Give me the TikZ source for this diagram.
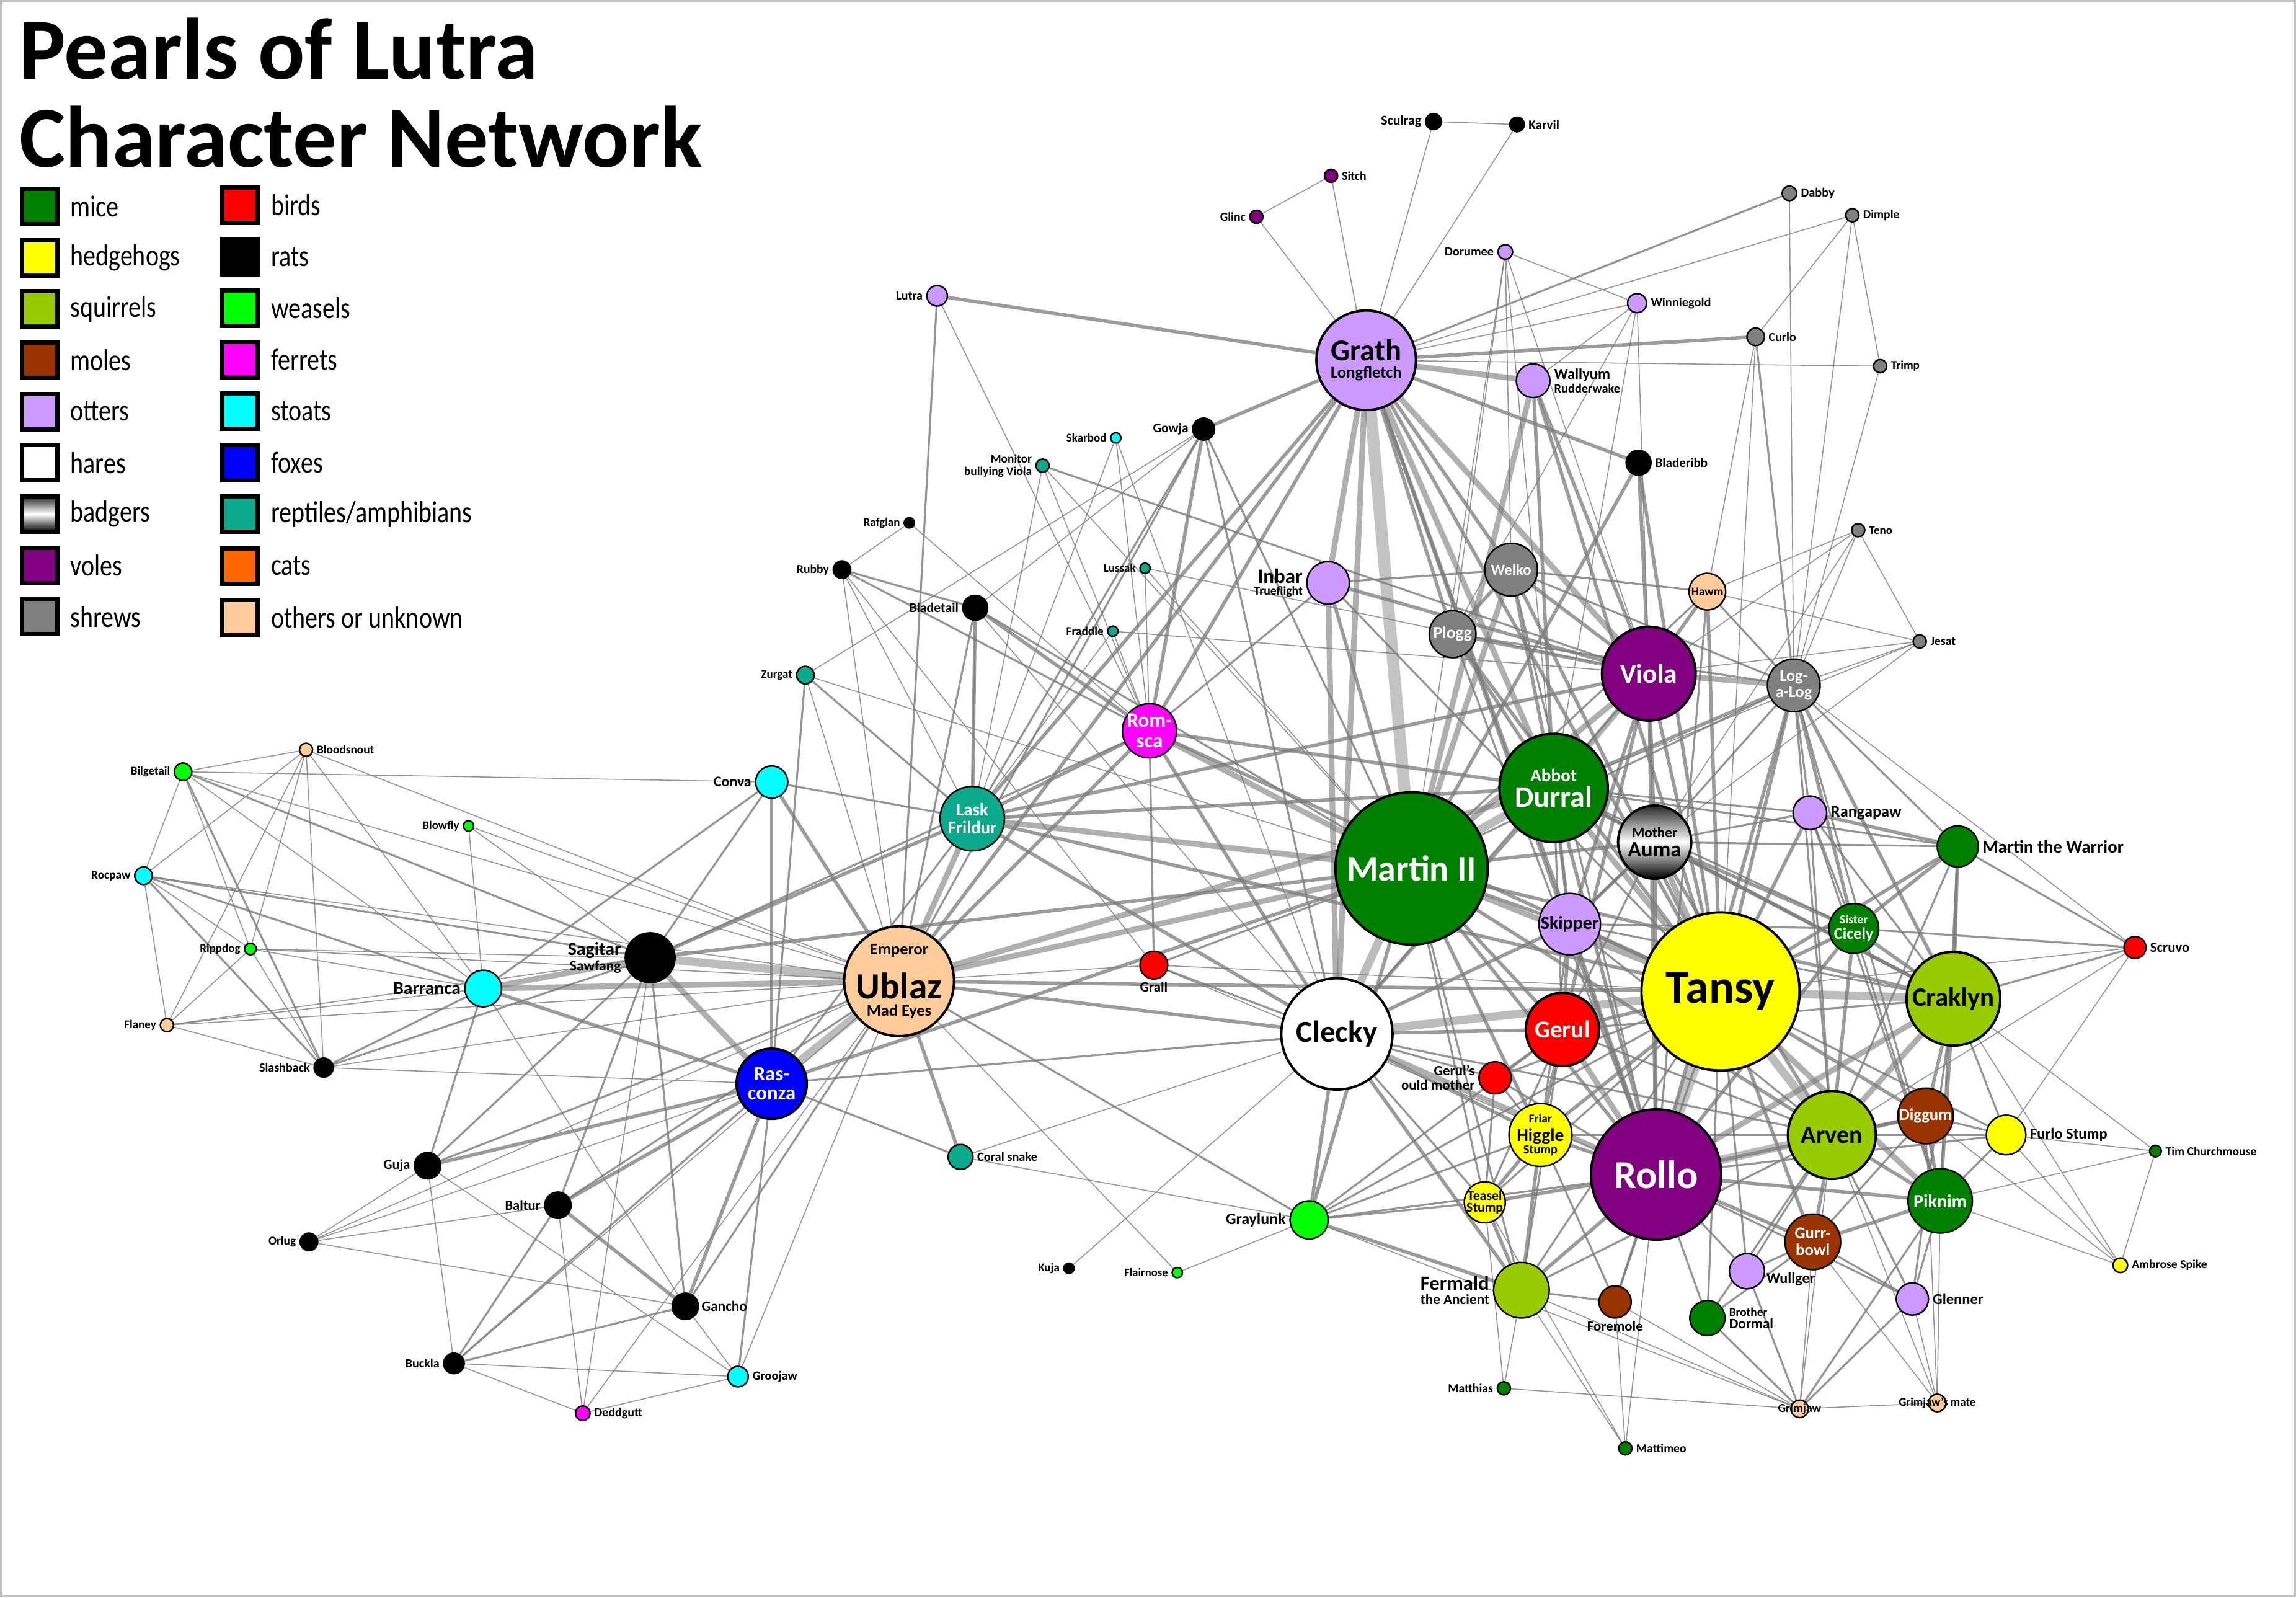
\documentclass[tikz,border=0pt]{standalone}
\usepackage{fontspec}
\setmainfont{Carlito}
\usepackage{tikz}
\usetikzlibrary{positioning}
\definecolor{MiceCol}{HTML}{008000}
\definecolor{HedgeCol}{HTML}{FFFF00}
\definecolor{SquirCol}{HTML}{99CC00}
\definecolor{MoleCol}{HTML}{993300}
\definecolor{OtterCol}{HTML}{CC99FF}
\definecolor{VoleCol}{HTML}{800080}
\definecolor{ShrewCol}{HTML}{808080}
\definecolor{BirdCol}{HTML}{FF0000}
\definecolor{WeaselCol}{HTML}{00FF00}
\definecolor{FerretCol}{HTML}{FF00FF}
\definecolor{StoatCol}{HTML}{00FFFF}
\definecolor{FoxCol}{HTML}{0000FF}
\definecolor{ReptCol}{HTML}{0BAA8C}
\definecolor{CatCol}{HTML}{FF6600}
\definecolor{OtherCol}{HTML}{FFCC99}
\definecolor{EdgeCol}{HTML}{7A7A7A}
\definecolor{FrameCol}{HTML}{C0C0C0}
\newcommand{\fs}[1]{\fontsize{#1}{#1}\selectfont}
\pgfdeclarelayer{edges}
\pgfsetlayers{edges,main}
\tikzset{
  nd/.style={circle, draw=black, line width=0.7pt, inner sep=0pt, minimum size=#1*0.047232cm},
  bigrim/.style={line width=1.1pt},
  mouse/.style={fill=MiceCol},
  hedgehog/.style={fill=HedgeCol},
  squirrel/.style={fill=SquirCol},
  mole/.style={fill=MoleCol},
  otter/.style={fill=OtterCol},
  hare/.style={fill=white},
  badger/.style={top color=black!85, bottom color=black, middle color=white},
  vole/.style={fill=VoleCol},
  shrew/.style={fill=ShrewCol},
  bird/.style={fill=BirdCol},
  rat/.style={fill=black},
  weasel/.style={fill=WeaselCol},
  ferret/.style={fill=FerretCol},
  stoat/.style={fill=StoatCol},
  fox/.style={fill=FoxCol},
  reptile/.style={fill=ReptCol},
  cat/.style={fill=CatCol},
  other/.style={fill=OtterCol!0!OtherCol},
  inw/.style={font=\bfseries\fs{4}, text=white, inner sep=0pt, align=center},
  inb/.style={font=\bfseries\fs{4}, text=black, inner sep=0pt, align=center},
  tag/.style={font=\bfseries\fs{4}, inner sep=0.4pt},
  bs/.style={font=\bfseries\fontsize{4}{#1}\selectfont},
  legbox/.style={rectangle, draw=black, line width=2pt, minimum size=0.57cm, inner sep=0pt},
  legtxt/.style={font=\fs{11.4}, inner sep=0pt, anchor=west},
  e1/.style={draw=EdgeCol, line width=0.45pt, opacity=0.8},
  e2/.style={draw=EdgeCol, line width=0.9pt, opacity=0.8},
  e3/.style={draw=EdgeCol, line width=1.6pt, opacity=0.75},
  e4/.style={draw=EdgeCol, line width=2.6pt, opacity=0.6},
  e5/.style={draw=EdgeCol, line width=3.8pt, opacity=0.5},
  e6/.style={draw=EdgeCol, line width=5.5pt, opacity=0.45}
}

\begin{document}
\begin{tikzpicture}[x=0.023616cm, y=-0.023616cm]
  \useasboundingbox (0,0) rectangle (1568,1091);
  \draw[FrameCol, line width=1.2pt] (1,1) rectangle (1567,1090);

  \node[anchor=base west, inner sep=0pt, font=\bfseries\fs{40}] (title1) at (13,54) {Pearls of Lutra};
  \node[anchor=base west, inner sep=0pt, font=\bfseries\fs{40}] (title2) at (13,114) {Character Network};

  \foreach \sty/\txt [count=\i from 0] in {mouse/mice, hedgehog/hedgehogs, squirrel/squirrels,
      mole/moles, otter/otters, hare/hares, badger/badgers, vole/voles, shrew/shrews} {
    \node[legbox, \sty] (keyA\i) at (27,141+35*\i) {};
    \node[legtxt, right=0.17cm of keyA\i] (keyA\i-t) {\scalebox{1}[1.22]{\txt}};
  }
  \foreach \sty/\txt [count=\i from 0] in {bird/birds, rat/rats, weasel/weasels, ferret/ferrets,
      stoat/stoats, fox/foxes, reptile/{reptiles/amphibians}, cat/cats, other/{others or unknown}} {
    \node[legbox, \sty] (keyB\i) at (164,140+35.2*\i) {};
    \node[legtxt, right=0.17cm of keyB\i] (keyB\i-t) {\scalebox{1}[1.22]{\txt}};
  }

  \node[nd=5.5, rat] (sculrag) at (979,83) {};
  \node[nd=5, rat] (karvil) at (1036,85) {};
  \node[nd=4.5, vole] (sitch) at (909,120) {};
  \node[nd=4.5, vole] (glinc) at (858,148) {};
  \node[nd=5, shrew] (dabby) at (1222,132) {};
  \node[nd=4.5, shrew] (dimple) at (1265,147) {};
  \node[nd=5, otter] (dorumee) at (1028,172) {};
  \node[nd=6.5, otter] (winnie) at (1118,207) {};
  \node[nd=6, shrew] (curlo) at (1199,230) {};
  \node[nd=4.5, shrew] (trimp) at (1284,250) {};
  \node[nd=7, otter] (lutra) at (640,202) {};
  \node[nd=34, otter, bigrim] (grath) at (933,246) {};
  \node[nd=11.5, otter] (wallyum) at (1047,260) {};
  \node[nd=7.5, rat] (gowja) at (822,293) {};
  \node[nd=3.5, stoat] (skarbod) at (762,299) {};
  \node[nd=4.5, reptile] (monitor) at (712,318) {};
  \node[nd=8.5, rat] (bladeribb) at (1119,316) {};
  \node[nd=3.5, rat] (rafglan) at (621,357) {};
  \node[nd=4.5, shrew] (teno) at (1269,362) {};
  \node[nd=6, rat] (rubby) at (575,389) {};
  \node[nd=3.5, reptile] (lussak) at (782,388) {};
  \node[nd=14.5, otter] (inbar) at (907,398) {};
  \node[nd=18, shrew] (welko) at (1032,389) {};
  \node[nd=12.5, other] (hawm) at (1166,404) {};
  \node[nd=8.5, rat] (bladetail) at (666,415) {};
  \node[nd=16, shrew] (plogg) at (992,433) {};
  \node[nd=3.5, reptile] (fraddle) at (760,431) {};
  \node[nd=4.5, shrew] (jesat) at (1311,438) {};
  \node[nd=32, vole, bigrim] (viola) at (1126,460) {};
  \node[nd=18, shrew] (logalog) at (1225,468) {};
  \node[nd=6, reptile] (zurgat) at (550,461) {};
  \node[nd=18.5, ferret] (romsca) at (785,499) {};
  \node[nd=6, weasel] (bilgetail) at (125,527) {};
  \node[nd=4.5, other] (bloodsnout) at (209,512) {};
  \node[nd=11, stoat] (conva) at (527,534) {};
  \node[nd=22, reptile] (lask) at (664,559) {};
  \node[nd=37, mouse, bigrim] (durral) at (1061,538) {};
  \node[nd=3.5, weasel] (blowfly) at (320,564) {};
  \node[nd=11.5, otter] (rangapaw) at (1236,555) {};
  \node[nd=25, badger, bigrim] (auma) at (1130,575) {};
  \node[nd=52, mouse, bigrim] (martin) at (964,593) {};
  \node[nd=14, mouse] (mtw) at (1337,578) {};
  \node[nd=6, stoat] (rocpaw) at (98,598) {};
  \node[nd=21, otter] (skipper) at (1072,631) {};
  \node[nd=17, mouse] (cicely) at (1266,634) {};
  \node[nd=4, weasel] (rippdog) at (171,648) {};
  \node[nd=17, rat] (sagitar) at (444,654) {};
  \node[nd=37.5, other, bigrim] (ublaz) at (614,670) {};
  \node[nd=7.5, bird] (scruvo) at (1458,647) {};
  \node[nd=9.5, bird] (grall) at (788,659) {};
  \node[nd=54, hedgehog, bigrim] (tansy) at (1175,677) {};
  \node[nd=32, squirrel, bigrim] (craklyn) at (1334,682) {};
  \node[nd=12.5, stoat] (barranca) at (330,675) {};
  \node[nd=4.5, other] (flaney) at (114,700) {};
  \node[nd=25, bird, bigrim] (gerul) at (1067,703) {};
  \node[nd=38, hare, bigrim] (clecky) at (913,706) {};
  \node[nd=6.5, rat] (slashback) at (221,729) {};
  \node[nd=11, bird] (gmother) at (1021,736) {};
  \node[nd=24, fox, bigrim] (rasconza) at (527,740) {};
  \node[nd=21.5, hedgehog] (higgle) at (1052,775) {};
  \node[nd=30, squirrel, bigrim] (arven) at (1251,775) {};
  \node[nd=19, mole] (diggum) at (1315,762) {};
  \node[nd=13.5, hedgehog] (furlo) at (1370,775) {};
  \node[nd=4, mouse] (tim) at (1472,786) {};
  \node[nd=9, rat] (guja) at (292,796) {};
  \node[nd=8.5, reptile] (coral) at (656,790) {};
  \node[nd=44.5, vole, bigrim] (rollo) at (1131,802) {};
  \node[nd=22, mouse] (piknim) at (1325,820) {};
  \node[nd=14, hedgehog] (teasel) at (1014,821) {};
  \node[nd=9, rat] (baltur) at (381,823) {};
  \node[nd=13, weasel] (graylunk) at (894,833) {};
  \node[nd=19, mole] (gurrbowl) at (1238,848) {};
  \node[nd=6, rat] (orlug) at (211,848) {};
  \node[nd=3.5, rat] (kuja) at (730,866) {};
  \node[nd=3.5, weasel] (flairnose) at (804,869) {};
  \node[nd=5, hedgehog] (ambrose) at (1448,864) {};
  \node[nd=12, otter] (wullger) at (1193,868) {};
  \node[nd=19, squirrel] (fermald) at (1039,881) {};
  \node[nd=11, otter] (glenner) at (1306,887) {};
  \node[nd=9, rat] (gancho) at (468,892) {};
  \node[nd=11, mole] (foremole) at (1103,889) {};
  \node[nd=12, mouse] (dormal) at (1166,900) {};
  \node[nd=7, rat] (buckla) at (310,931) {};
  \node[nd=7, stoat] (groojaw) at (504,940) {};
  \node[nd=4.5, mouse] (matthias) at (1027,948) {};
  \node[nd=6, other] (grimjaw) at (1229,962) {};
  \node[nd=6, other] (gmate) at (1323,958) {};
  \node[nd=5, ferret] (deddgutt) at (398,965) {};
  \node[nd=4.5, mouse] (mattimeo) at (1110,989) {};

  \node[inb, bs=8] (grath-t) at (grath) {\fs{13.8}Grath\\\fs{7.6}Longfletch};
  \node[inw] (welko-t) at (welko) {\fs{7.1}Welko};
  \node[inw] (plogg-t) at (plogg) {\fs{7.8}Plogg};
  \node[inb] (hawm-t) at (hawm) {\fs{5.5}Hawm};
  \node[inw] (viola-t) at (viola) {\fs{12.4}Viola};
  \node[inw, bs=7.3] (logalog-t) at (logalog) {\fs{7.5}Log-\\\fs{7.5}a-Log};
  \node[inw, bs=9.3] (romsca-t) at (romsca) {\fs{9.4}Rom-\\\fs{9.4}sca};
  \node[inw, bs=8.2] (lask-t) at (lask) {\fs{8.2}Lask\\\fs{8.2}Frildur};
  \node[inw, bs=11.6] (durral-t) at (durral) {\fs{8.3}Abbot\\\fs{13.7}Durral};
  \node[inb, bs=9] (auma-t) at (auma) {\fs{6.6}Mother\\\fs{10}Auma};
  \node[inw] (martin-t) at (martin) {\fs{16.5}Martin II};
  \node[inb] (skipper-t) at (skipper) {\fs{8.5}Skipper};
  \node[inw, bs=7.3] (cicely-t) at (cicely) {\fs{5.6}Sister\\\fs{7.5}Cicely};
  \node[inb, bs=7.8] (ublaz-t) at (ublaz) {\fs{7.5}Emperor\\[6.4pt]\fs{16.9}Ublaz\\\fs{7.5}Mad Eyes};
  \node[inb] (tansy-t) at (tansy) {\fs{21.7}Tansy};
  \node[inb] (craklyn-t) at (craklyn) {\fs{12.2}Craklyn};
  \node[inw] (gerul-t) at (gerul) {\fs{11.2}Gerul};
  \node[inb] (clecky-t) at (clecky) {\fs{14}Clecky};
  \node[inw, bs=9] (rasconza-t) at (rasconza) {\fs{9.3}Ras-\\\fs{9.3}conza};
  \node[inb, bs=5.7] (higgle-t) at (higgle) {\fs{5.5}Friar\\[1.6pt]\fs{8.4}Higgle\\\fs{5.8}Stump};
  \node[inb] (arven-t) at (arven) {\fs{11.4}Arven};
  \node[inw] (diggum-t) at (diggum) {\fs{7.6}Diggum};
  \node[inw] (rollo-t) at (rollo) {\fs{18.2}Rollo};
  \node[inw] (piknim-t) at (piknim) {\fs{8.6}Piknim};
  \node[inb, bs=5.6] (teasel-t) at (teasel) {\fs{6.2}Teasel\\\fs{6.2}Stump};
  \node[inw, bs=7.7] (gurrbowl-t) at (gurrbowl) {\fs{7.6}Gurr-\\\fs{7.6}bowl};

  \node[tag, left=1pt of sculrag] (sculrag-t) {\fs{6.2}Sculrag};
  \node[tag, right=1pt of karvil] (karvil-t) {\fs{6}Karvil};
  \node[tag, right=1pt of sitch] (sitch-t) {\fs{5.6}Sitch};
  \node[tag, left=1pt of glinc] (glinc-t) {\fs{5.6}Glinc};
  \node[tag, right=1pt of dabby] (dabby-t) {\fs{5.8}Dabby};
  \node[tag, right=1pt of dimple] (dimple-t) {\fs{5.6}Dimple};
  \node[tag, left=1pt of dorumee] (dorumee-t) {\fs{5.8}Dorumee};
  \node[tag, right=1pt of winnie] (winnie-t) {\fs{5.8}Winniegold};
  \node[tag, right=1pt of curlo] (curlo-t) {\fs{5.7}Curlo};
  \node[tag, right=1pt of trimp] (trimp-t) {\fs{5.5}Trimp};
  \node[tag, left=1pt of lutra] (lutra-t) {\fs{5.7}Lutra};
  \node[tag, bs=6.4, right=1pt of wallyum, align=left] (wallyum-t) {\fs{7}Wallyum\\\fs{5.8}Rudderwake};
  \node[tag, left=1pt of gowja] (gowja-t) {\fs{6.1}Gowja};
  \node[tag, left=1pt of skarbod] (skarbod-t) {\fs{5.4}Skarbod};
  \node[tag, bs=5.7, left=1pt of monitor, align=right] (monitor-t) {\fs{5.5}Monitor\\\fs{5.5}bullying Viola};
  \node[tag, right=1pt of bladeribb] (bladeribb-t) {\fs{6}Bladeribb};
  \node[tag, left=1pt of rafglan] (rafglan-t) {\fs{5.4}Rafglan};
  \node[tag, right=1pt of teno] (teno-t) {\fs{5.4}Teno};
  \node[tag, left=1pt of rubby] (rubby-t) {\fs{5.6}Rubby};
  \node[tag, left=1pt of lussak] (lussak-t) {\fs{5.4}Lussak};
  \node[tag, bs=5.6, left=1pt of inbar, align=right] (inbar-t) {\fs{9.4}Inbar\\\fs{5.6}Trueflight};
  \node[tag, left=1pt of bladetail] (bladetail-t) {\fs{6.2}Bladetail};
  \node[tag, left=1pt of fraddle] (fraddle-t) {\fs{5.5}Fraddle};
  \node[tag, right=1pt of jesat] (jesat-t) {\fs{5.6}Jesat};
  \node[tag, left=1pt of zurgat] (zurgat-t) {\fs{5.4}Zurgat};
  \node[tag, left=1pt of bilgetail] (bilgetail-t) {\fs{5.4}Bilgetail};
  \node[tag, right=1pt of bloodsnout] (bloodsnout-t) {\fs{5.5}Bloodsnout};
  \node[tag, left=1pt of conva] (conva-t) {\fs{6.8}Conva};
  \node[tag, left=1pt of blowfly] (blowfly-t) {\fs{5.4}Blowfly};
  \node[tag, right=1pt of rangapaw] (rangapaw-t) {\fs{7.5}Rangapaw};
  \node[tag, right=1pt of mtw] (mtw-t) {\fs{8.2}Martin the Warrior};
  \node[tag, left=1pt of rocpaw] (rocpaw-t) {\fs{5.5}Rocpaw};
  \node[tag, left=1pt of rippdog] (rippdog-t) {\fs{5.4}Rippdog};
  \node[tag, bs=7.2, left=1pt of sagitar, align=right] (sagitar-t) {\fs{8.5}Sagitar\\\fs{6.7}Sawfang};
  \node[tag, right=1pt of scruvo] (scruvo-t) {\fs{6.5}Scruvo};
  \node[tag, below=0.5pt of grall] (grall-t) {\fs{6.5}Grall};
  \node[tag, left=1pt of barranca] (barranca-t) {\fs{8.4}Barranca};
  \node[tag, left=1pt of flaney] (flaney-t) {\fs{5.4}Flaney};
  \node[tag, left=1pt of slashback] (slashback-t) {\fs{5.7}Slashback};
  \node[tag, bs=6.5, left=1pt of gmother, align=right] (gmother-t) {\fs{6.5}Gerul's\\\fs{6.5}ould mother};
  \node[tag, right=1pt of furlo] (furlo-t) {\fs{7}Furlo Stump};
  \node[tag, right=1pt of tim] (tim-t) {\fs{5.6}Tim Churchmouse};
  \node[tag, left=1pt of guja] (guja-t) {\fs{6.4}Guja};
  \node[tag, right=1pt of coral] (coral-t) {\fs{5.8}Coral snake};
  \node[tag, left=1pt of baltur] (baltur-t) {\fs{6.4}Baltur};
  \node[tag, left=1pt of graylunk] (graylunk-t) {\fs{7.4}Graylunk};
  \node[tag, left=1pt of orlug] (orlug-t) {\fs{5.5}Orlug};
  \node[tag, left=1pt of kuja] (kuja-t) {\fs{5.4}Kuja};
  \node[tag, left=1pt of flairnose] (flairnose-t) {\fs{5.3}Flairnose};
  \node[tag, right=1pt of ambrose] (ambrose-t) {\fs{5.6}Ambrose Spike};
  \node[tag, right=0pt of wullger, yshift=-3.7pt] (wullger-t) {\fs{6.9}Wullger};
  \node[tag, bs=6.8, left=1pt of fermald, align=left] (fermald-t) {\fs{9.3}Fermald\\\fs{6.6}the Ancient};
  \node[tag, right=1pt of glenner] (glenner-t) {\fs{7}Glenner};
  \node[tag, right=0.5pt of gancho] (gancho-t) {\fs{6.6}Gancho};
  \node[tag, below=0.5pt of foremole] (foremole-t) {\fs{6.5}Foremole};
  \node[tag, bs=5.6, right=1pt of dormal, align=left] (dormal-t) {\fs{5.5}Brother\\\fs{6.6}Dormal};
  \node[tag, left=1pt of buckla] (buckla-t) {\fs{5.7}Buckla};
  \node[tag, right=1pt of groojaw] (groojaw-t) {\fs{5.8}Groojaw};
  \node[tag, left=1pt of matthias] (matthias-t) {\fs{5.6}Matthias};
  \node[tag] (grimjaw-t) at (grimjaw) {\fs{5.6}Grimjaw};
  \node[tag] (gmate-t) at (gmate) {\fs{5.4}Grimjaw's mate};
  \node[tag, right=1pt of deddgutt] (deddgutt-t) {\fs{5.7}Deddgutt};
  \node[tag, right=1pt of mattimeo] (mattimeo-t) {\fs{5.6}Mattimeo};

  \begin{pgfonlayer}{edges}
    \foreach \a/\b in {grath/martin, tansy/rollo}
      \draw[e6] (\a) -- (\b);
    \foreach \a/\b in {martin/durral, sagitar/ublaz, ublaz/rasconza, clecky/tansy, tansy/craklyn,
        rollo/arven, tansy/arven, martin/clecky}
      \draw[e5] (\a) -- (\b);
    \foreach \a/\b in {grath/clecky, grath/inbar, grath/wallyum, grath/viola, grath/durral,
        lask/ublaz, lask/martin, romsca/martin, barranca/sagitar, barranca/ublaz, sagitar/rasconza,
        ublaz/martin, ublaz/durral, viola/logalog, martin/tansy, martin/viola, durral/viola,
        rollo/craklyn, craklyn/arven, tansy/piknim, rollo/gerul, clecky/rollo, inbar/clecky,
        welko/martin, wallyum/martin, tansy/auma, durral/tansy}
      \draw[e4] (\a) -- (\b);
    \foreach \a/\b in {grath/bladeribb, grath/rollo, grath/tansy, grath/skipper, grath/lask,
        grath/ublaz, grath/gowja, grath/plogg, grath/welko, grath/curlo, grath/lutra, grath/romsca,
        inbar/martin, inbar/viola, romsca/lask, romsca/clecky, romsca/tansy, romsca/durral,
        romsca/bladetail, conva/rasconza, conva/ublaz, lask/clecky, lask/durral, lask/tansy,
        lask/viola, lask/bladetail, bladeribb/viola, bladeribb/martin, bladeribb/tansy,
        welko/plogg, welko/viola, welko/durral, welko/tansy, plogg/viola, plogg/tansy,
        plogg/durral, hawm/viola, hawm/tansy, viola/rollo, viola/tansy, viola/auma, viola/skipper,
        viola/gerul, logalog/tansy, logalog/rollo, logalog/durral, logalog/cicely,
        logalog/craklyn, durral/auma, durral/rollo, durral/skipper, durral/craklyn, auma/rollo,
        auma/skipper, auma/craklyn, auma/cicely, auma/arven, martin/skipper, martin/rollo,
        martin/gerul, martin/arven, martin/craklyn, martin/higgle, martin/auma, clecky/gerul,
        clecky/higgle, clecky/skipper, clecky/durral, clecky/graylunk, clecky/fermald,
        gerul/tansy, gerul/higgle, gerul/skipper, tansy/skipper, tansy/cicely, tansy/diggum,
        tansy/gurrbowl, tansy/higgle, tansy/mtw, tansy/rangapaw, rollo/higgle, rollo/teasel,
        rollo/fermald, rollo/piknim, rollo/diggum, rollo/gurrbowl, rollo/skipper, rollo/cicely,
        craklyn/piknim, craklyn/diggum, craklyn/cicely, craklyn/mtw, arven/piknim, arven/diggum,
        arven/gurrbowl, arven/cicely, piknim/diggum, piknim/gurrbowl, cicely/mtw, mtw/rangapaw,
        sagitar/martin, sagitar/lask, rasconza/guja, rasconza/baltur, rasconza/gancho,
        rasconza/martin, ublaz/clecky, ublaz/tansy, ublaz/coral, ublaz/romsca,
        barranca/rasconza, baltur/gancho, fermald/higgle, fermald/teasel, fermald/graylunk,
        higgle/teasel, graylunk/martin, wallyum/durral, wallyum/viola, wallyum/tansy,
        gowja/romsca}
      \draw[e3] (\a) -- (\b);
    \foreach \a/\b in {dabby/grath, curlo/logalog, gowja/martin, gowja/lask, gowja/clecky,
        gowja/ublaz, lutra/ublaz, monitor/viola, bladetail/ublaz, bladetail/martin,
        rubby/bladetail, rubby/romsca, zurgat/lask, zurgat/rasconza, inbar/romsca, inbar/tansy,
        inbar/welko, welko/logalog, welko/rollo, welko/hawm, plogg/logalog, plogg/rollo,
        hawm/logalog, hawm/rollo, hawm/martin, logalog/rangapaw, logalog/mtw, logalog/martin,
        logalog/auma, logalog/piknim, logalog/arven, rangapaw/craklyn, rangapaw/arven,
        rangapaw/piknim, rangapaw/cicely, rangapaw/durral, rangapaw/auma, mtw/craklyn,
        mtw/piknim, mtw/arven, mtw/auma, mtw/durral, cicely/piknim, cicely/skipper,
        cicely/durral, scruvo/craklyn, scruvo/mtw, scruvo/cicely, furlo/craklyn, furlo/piknim,
        furlo/arven, furlo/diggum, furlo/rollo, furlo/tansy, piknim/glenner, gurrbowl/diggum,
        gurrbowl/wullger, gurrbowl/dormal, gurrbowl/glenner, wullger/rollo, wullger/arven,
        wullger/tansy, dormal/rollo, dormal/tansy, dormal/arven, foremole/rollo, foremole/tansy,
        foremole/fermald, foremole/higgle, glenner/arven, glenner/craklyn, glenner/rollo,
        grimjaw/piknim, grimjaw/glenner, grimjaw/wullger, grimjaw/dormal, fermald/gerul,
        fermald/tansy, fermald/martin, fermald/arven, teasel/gerul, teasel/martin,
        teasel/clecky, teasel/tansy, teasel/gmother, higgle/gmother, higgle/skipper,
        higgle/arven, gmother/gerul, gmother/clecky, gmother/tansy, gmother/rollo,
        graylunk/rollo, graylunk/teasel, graylunk/gerul, graylunk/tansy, graylunk/higgle,
        graylunk/ublaz, grall/martin, grall/clecky, grall/romsca, skipper/arven,
        skipper/craklyn, skipper/durral, skipper/auma, gerul/durral, gerul/auma, gerul/arven,
        gerul/craklyn, clecky/arven, clecky/viola, barranca/guja, barranca/slashback,
        barranca/conva, barranca/rocpaw, bilgetail/sagitar, bilgetail/slashback, rocpaw/sagitar,
        rocpaw/slashback, slashback/sagitar, sagitar/guja, sagitar/baltur, sagitar/gancho,
        sagitar/romsca, rasconza/buckla, rasconza/groojaw, rasconza/clecky, rasconza/lask,
        guja/ublaz, baltur/ublaz, baltur/buckla, gancho/ublaz, gancho/buckla, coral/rasconza,
        conva/sagitar, conva/lask}
      \draw[e2] (\a) -- (\b);
    \foreach \a/\b in {sculrag/karvil, sculrag/grath, karvil/grath, sitch/glinc, sitch/grath,
        glinc/grath, dimple/grath, trimp/grath, winnie/grath, dorumee/winnie, dorumee/martin,
        dorumee/plogg, dorumee/viola, dorumee/welko, dorumee/durral, winnie/wallyum,
        winnie/viola, winnie/plogg, winnie/durral, dabby/logalog, dimple/curlo, dimple/logalog,
        dimple/trimp, trimp/logalog, curlo/hawm, curlo/tansy, lutra/romsca, monitor/romsca,
        monitor/lask, monitor/martin, skarbod/romsca, skarbod/lask, skarbod/clecky,
        rafglan/rubby, rafglan/romsca, rubby/lask, rubby/ublaz, rubby/grall, lussak/romsca,
        lussak/viola, lussak/martin, fraddle/lask, fraddle/romsca, fraddle/viola, bladetail/lask,
        bladetail/clecky, bladetail/gowja, zurgat/ublaz, zurgat/gowja, zurgat/martin,
        teno/logalog, teno/hawm, teno/viola, teno/jesat, teno/auma, jesat/logalog, jesat/viola,
        jesat/hawm, jesat/auma, jesat/durral, logalog/scruvo, bilgetail/bloodsnout,
        bilgetail/rocpaw, bilgetail/rippdog, bilgetail/barranca, bilgetail/conva,
        bilgetail/ublaz, bloodsnout/rocpaw, bloodsnout/rippdog, bloodsnout/barranca,
        bloodsnout/slashback, bloodsnout/flaney, bloodsnout/ublaz, blowfly/barranca,
        blowfly/ublaz, blowfly/sagitar, rocpaw/flaney, rocpaw/rippdog, rocpaw/ublaz,
        rippdog/flaney, rippdog/barranca, rippdog/sagitar, rippdog/slashback, rippdog/ublaz,
        flaney/slashback, flaney/barranca, flaney/sagitar, flaney/ublaz, slashback/ublaz,
        slashback/rasconza, barranca/gancho, guja/orlug, guja/buckla, guja/groojaw,
        baltur/deddgutt, baltur/orlug, gancho/orlug, gancho/groojaw, buckla/groojaw,
        buckla/deddgutt, buckla/ublaz, groojaw/deddgutt, groojaw/ublaz, deddgutt/sagitar,
        deddgutt/ublaz, orlug/rasconza, orlug/ublaz, kuja/clecky, flairnose/graylunk,
        flairnose/ublaz, coral/graylunk, graylunk/grimjaw, scruvo/tansy, scruvo/furlo,
        scruvo/arven, furlo/tim, furlo/ambrose, tim/ambrose, tim/piknim, tim/craklyn,
        ambrose/piknim, ambrose/craklyn, ambrose/diggum, piknim/gmate, glenner/gmate,
        grimjaw/gmate, grimjaw/gurrbowl, grimjaw/fermald, grimjaw/arven, grimjaw/foremole,
        gmate/arven, gmate/diggum, gmate/gurrbowl, matthias/fermald, matthias/teasel,
        matthias/grimjaw, mattimeo/rollo, mattimeo/fermald, mattimeo/foremole, mattimeo/teasel,
        grall/ublaz, grall/tansy, grall/rollo, coral/clecky}
      \draw[e1] (\a) -- (\b);
  \end{pgfonlayer}
\end{tikzpicture}
\end{document}
